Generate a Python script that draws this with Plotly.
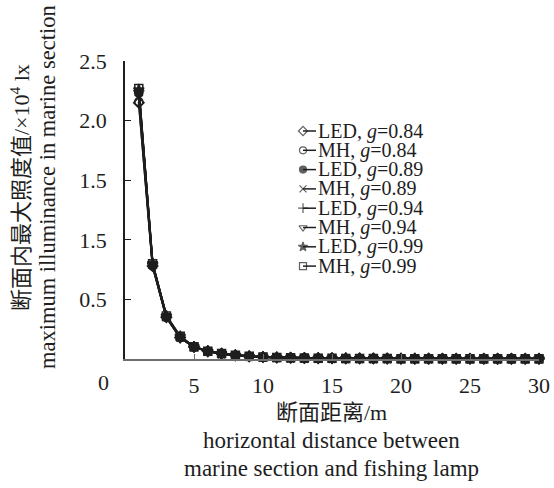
import plotly.graph_objects as go

# ---------------- data ----------------
distance = list(range(1, 31))

led_084 = [2.15, 0.78, 0.35, 0.18, 0.100, 0.064, 0.044, 0.030, 0.022, 0.016, 0.012, 0.010, 0.008, 0.007, 0.006,
           0.005, 0.0045, 0.004, 0.0035, 0.003, 0.0028, 0.0026, 0.0024, 0.0022, 0.002, 0.0019, 0.0018, 0.0017, 0.0016, 0.0015]
mh_084 = [2.16, 0.78, 0.35, 0.18, 0.100, 0.064, 0.044, 0.030, 0.022, 0.016, 0.012, 0.010, 0.008, 0.007, 0.006,
          0.005, 0.0045, 0.004, 0.0035, 0.003, 0.0028, 0.0026, 0.0024, 0.0022, 0.002, 0.0019, 0.0018, 0.0017, 0.0016, 0.0015]
led_089 = [2.23, 0.79, 0.35, 0.18, 0.101, 0.065, 0.045, 0.031, 0.022, 0.016, 0.012, 0.010, 0.008, 0.007, 0.006,
           0.005, 0.0045, 0.004, 0.0035, 0.003, 0.0028, 0.0026, 0.0024, 0.0022, 0.002, 0.0019, 0.0018, 0.0017, 0.0016, 0.0015]
mh_089 = [2.24, 0.79, 0.35, 0.18, 0.101, 0.065, 0.045, 0.031, 0.022, 0.016, 0.012, 0.010, 0.008, 0.007, 0.006,
          0.005, 0.0045, 0.004, 0.0035, 0.003, 0.0028, 0.0026, 0.0024, 0.0022, 0.002, 0.0019, 0.0018, 0.0017, 0.0016, 0.0015]
led_094 = [2.25, 0.80, 0.36, 0.18, 0.102, 0.066, 0.045, 0.031, 0.022, 0.016, 0.012, 0.010, 0.008, 0.007, 0.006,
           0.005, 0.0045, 0.004, 0.0035, 0.003, 0.0028, 0.0026, 0.0024, 0.0022, 0.002, 0.0019, 0.0018, 0.0017, 0.0016, 0.0015]
mh_094 = [2.25, 0.80, 0.36, 0.18, 0.102, 0.066, 0.045, 0.031, 0.022, 0.016, 0.012, 0.010, 0.008, 0.007, 0.006,
          0.005, 0.0045, 0.004, 0.0035, 0.003, 0.0028, 0.0026, 0.0024, 0.0022, 0.002, 0.0019, 0.0018, 0.0017, 0.0016, 0.0015]
led_099 = [2.26, 0.80, 0.36, 0.19, 0.103, 0.066, 0.046, 0.032, 0.023, 0.017, 0.013, 0.010, 0.008, 0.007, 0.006,
           0.005, 0.0045, 0.004, 0.0035, 0.003, 0.0028, 0.0026, 0.0024, 0.0022, 0.002, 0.0019, 0.0018, 0.0017, 0.0016, 0.0015]
mh_099 = [2.27, 0.80, 0.36, 0.19, 0.103, 0.066, 0.046, 0.032, 0.023, 0.017, 0.013, 0.010, 0.008, 0.007, 0.006,
          0.005, 0.0045, 0.004, 0.0035, 0.003, 0.0028, 0.0026, 0.0024, 0.0022, 0.002, 0.0019, 0.0018, 0.0017, 0.0016, 0.0015]

series_names = ["LED, <i>g</i>=0.84", "MH, <i>g</i>=0.84", "LED, <i>g</i>=0.89", "MH, <i>g</i>=0.89",
                "LED, <i>g</i>=0.94", "MH, <i>g</i>=0.94", "LED, <i>g</i>=0.99", "MH, <i>g</i>=0.99"]
series_values = [led_084, mh_084, led_089, mh_089, led_094, mh_094, led_099, mh_099]
series_symbols = ["diamond-open", "circle-open", "circle", "x-thin-open",
                  "cross-thin-open", "triangle-down-open", "star", "square-open"]

x_tickvals = [5, 10, 15, 20, 25, 30]
x_ticktext = ["5", "10", "15", "20", "25", "30"]
y_tickvals = [0.5, 1.0, 1.5, 2.0, 2.5]
y_ticktext = ["0.5", "1.5", "1.5", "2.0", "2.5"]

# ---------------- layout constants ----------------
W, H = 554, 488
PL, PR, PT, PB = 125, 539, 61, 359   # plot-area edges in page pixels
L, R, T, B = PL, W - PR, PT, H - PB
PW, PH = PR - PL, PB - PT
FONT = "Liberation Serif, Noto Sans CJK SC, serif"
INK = "#1e1e1e"


def px_x(px):
    return (px - PL) / PW


def px_y(py):
    return (PB - py) / PH


fig = go.Figure()

for name, vals, sym in zip(series_names, series_values, series_symbols):
    fig.add_trace(go.Scatter(
        x=distance, y=vals, name=name, mode="lines+markers",
        line=dict(color=INK, width=2),
        marker=dict(symbol=sym, size=8, color=INK, line=dict(color=INK, width=1.5)),
        cliponaxis=False, showlegend=False,
    ))

# compact legend (keys on an overlay axis in paper units, labels as annotations)
annotations = []
row0, row_step = 131, 19.3
for i, (name, sym) in enumerate(zip(series_names, series_symbols)):
    yc = px_y(row0 + i * row_step)
    fig.add_trace(go.Scatter(
        x=[px_x(303), px_x(316)], y=[yc, yc], mode="lines+markers",
        line=dict(color=INK, width=1.5),
        marker=dict(symbol=sym, size=[7, 0], color=INK, line=dict(color=INK, width=1.2)),
        xaxis="x2", yaxis="y2", showlegend=False, hoverinfo="skip", cliponaxis=False,
    ))
    annotations.append(dict(
        x=px_x(316), y=yc, xref="paper", yref="paper", text=name, showarrow=False,
        xanchor="left", yanchor="middle", font=dict(family=FONT, size=20, color=INK),
    ))

# axis titles and the corner "0"
annotations += [
    dict(x=px_x(20), y=px_y(188), xref="paper", yref="paper", textangle=-90,
         text="断面内最大照度值/×10<sup>4</sup> lx", showarrow=False,
         xanchor="center", yanchor="middle", font=dict(family=FONT, size=22, color=INK)),
    dict(x=px_x(47), y=px_y(187), xref="paper", yref="paper", textangle=-90,
         text="maximum illuminance in marine section", showarrow=False,
         xanchor="center", yanchor="middle", font=dict(family=FONT, size=22.5, color=INK)),
    dict(x=px_x(103), y=px_y(383), xref="paper", yref="paper", text="0", showarrow=False,
         xanchor="center", yanchor="middle", font=dict(family=FONT, size=22, color=INK)),
    dict(x=px_x(331), y=px_y(412), xref="paper", yref="paper", text="断面距离/m", showarrow=False,
         xanchor="center", yanchor="middle", font=dict(family=FONT, size=22, color=INK)),
    dict(x=px_x(331), y=px_y(440), xref="paper", yref="paper", text="horizontal distance between",
         showarrow=False, xanchor="center", yanchor="middle", font=dict(family=FONT, size=23, color=INK)),
    dict(x=px_x(331), y=px_y(468), xref="paper", yref="paper", text="marine section and fishing lamp",
         showarrow=False, xanchor="center", yanchor="middle", font=dict(family=FONT, size=23, color=INK)),
]

fig.update_layout(
    width=W, height=H,
    margin=dict(l=L, r=R, t=T, b=B, autoexpand=False),
    paper_bgcolor="white", plot_bgcolor="white",
    font=dict(family=FONT, size=22, color=INK),
    showlegend=False,
    annotations=annotations,
    xaxis=dict(range=[0, 30], tickvals=x_tickvals, ticktext=x_ticktext,
               showgrid=False, zeroline=False, showline=True, linecolor="#6e6e6e", linewidth=2,
               ticks="inside", ticklen=5, tickcolor="#6e6e6e", tickwidth=1,
               tickfont=dict(family=FONT, size=22, color=INK), ticklabelstandoff=6),
    yaxis=dict(range=[0, 2.5], tickvals=y_tickvals, ticktext=y_ticktext,
               showgrid=False, zeroline=False, showline=True, linecolor=INK, linewidth=1.5,
               ticks="inside", ticklen=6, tickcolor=INK, tickwidth=1,
               tickfont=dict(family=FONT, size=22, color=INK), ticklabelstandoff=12),
    xaxis2=dict(range=[0, 1], overlaying="x", anchor="y2", visible=False, fixedrange=True),
    yaxis2=dict(range=[0, 1], overlaying="y", anchor="x2", visible=False, fixedrange=True),
)

fig.write_html("out.html", config={"displayModeBar": False},
               post_script="document.body.style.margin='0';")
